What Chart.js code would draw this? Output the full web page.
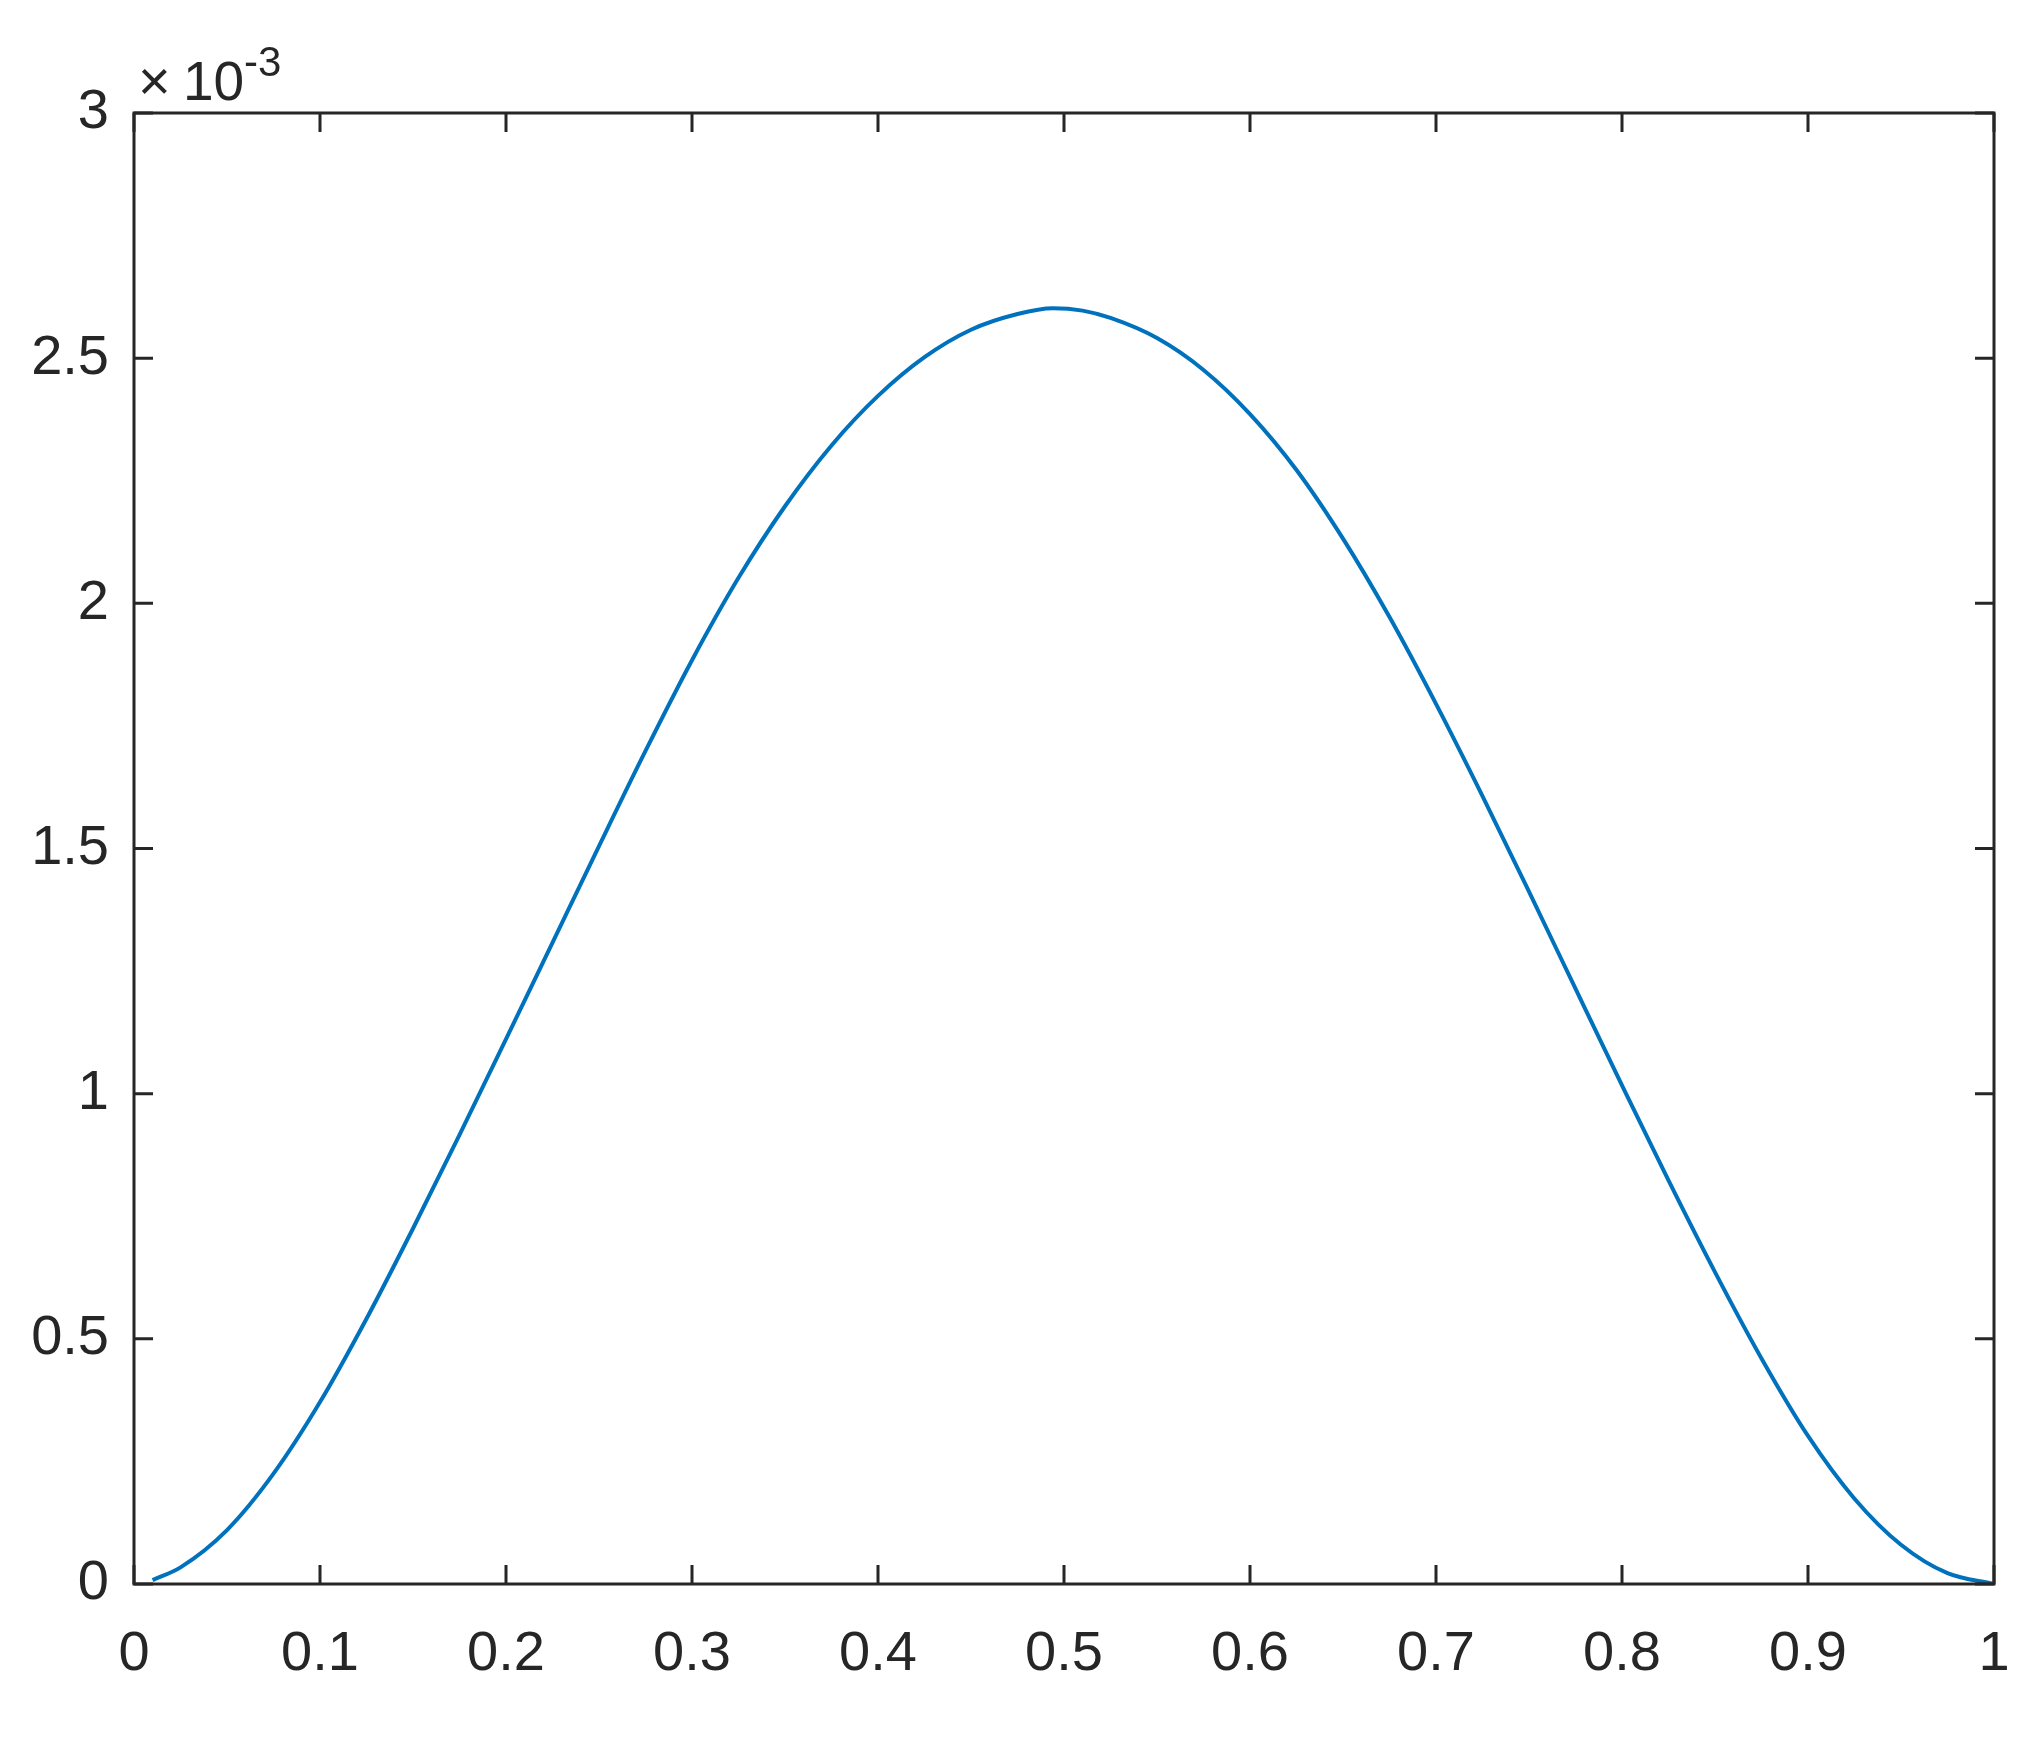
<!DOCTYPE html>
<html>
<head>
<meta charset="utf-8">
<style>
  html, body { margin: 0; padding: 0; background: #ffffff; }
  #wrap { width: 2029px; height: 1754px; position: relative; }
  canvas { display: block; }
</style>
<script src="https://cdn.jsdelivr.net/npm/chart.js@4.4.1/dist/chart.umd.min.js"></script>
</head>
<body>
<div id="wrap"><canvas id="c" width="2029" height="1754"></canvas></div>
<script>
// x positions of the sampled curve
const xValues = [0.010, 0.025, 0.050, 0.075, 0.100, 0.125, 0.150, 0.175, 0.200, 0.225,
  0.250, 0.275, 0.300, 0.325, 0.350, 0.375, 0.400, 0.425, 0.450, 0.475,
  0.494, 0.510, 0.525, 0.550, 0.575, 0.600, 0.625, 0.650, 0.675, 0.700,
  0.725, 0.750, 0.775, 0.800, 0.825, 0.850, 0.875, 0.900, 0.925, 0.950,
  0.975, 1.000];
// curve values, in units of 10^-3
const yValuesE3 = [0.008, 0.034, 0.110, 0.225, 0.371, 0.541, 0.725, 0.916, 1.111, 1.308,
  1.505, 1.699, 1.884, 2.052, 2.198, 2.322, 2.423, 2.502, 2.558, 2.590,
  2.602, 2.597, 2.582, 2.541, 2.476, 2.386, 2.272, 2.132, 1.972, 1.795,
  1.607, 1.412, 1.214, 1.017, 0.823, 0.636, 0.460, 0.302, 0.174, 0.080,
  0.022, 0.000];
// axis ticks
const xTicks = [0, 0.1, 0.2, 0.3, 0.4, 0.5, 0.6, 0.7, 0.8, 0.9, 1];
const yTicksE3 = [0, 0.5, 1, 1.5, 2, 2.5, 3];
const exponentBase = '\u00D7';
const exponentTen = '10';
const exponentPower = '-3';

const points = xValues.map((x, i) => ({ x: x, y: yValuesE3[i] }));
const axisColor = '#262626';
const fontFamily = '"Liberation Sans", Arial, Helvetica, sans-serif';
const fmt = v => String(Number(v.toFixed(2)));

const boxPlugin = {
  id: 'matlabBox',
  beforeDraw(chart) {
    const ctx = chart.ctx;
    ctx.save();
    ctx.fillStyle = '#ffffff';
    ctx.fillRect(0, 0, chart.width, chart.height);
    ctx.restore();
  },
  afterDraw(chart) {
    const ctx = chart.ctx;
    const a = chart.chartArea;
    const xs = chart.scales.x, ys = chart.scales.y;
    const tl = 19;
    ctx.save();
    ctx.strokeStyle = axisColor;
    ctx.lineWidth = 3;
    ctx.lineCap = 'butt';
    ctx.beginPath();
    xTicks.forEach(v => {
      const px = xs.getPixelForValue(v);
      ctx.moveTo(px, a.bottom); ctx.lineTo(px, a.bottom - tl);
      ctx.moveTo(px, a.top); ctx.lineTo(px, a.top + tl);
    });
    yTicksE3.forEach(v => {
      const py = ys.getPixelForValue(v);
      ctx.moveTo(a.left, py); ctx.lineTo(a.left + tl, py);
      ctx.moveTo(a.right, py); ctx.lineTo(a.right - tl, py);
    });
    ctx.stroke();
    ctx.lineJoin = 'miter';
    ctx.strokeRect(a.left, a.top, a.right - a.left, a.bottom - a.top);
    // exponent label
    ctx.fillStyle = axisColor;
    ctx.textBaseline = 'alphabetic';
    ctx.textAlign = 'left';
    ctx.font = '56px ' + fontFamily;
    ctx.fillText(exponentBase, a.left + 4, a.top - 13);
    ctx.font = '55px ' + fontFamily;
    ctx.fillText(exponentTen, a.left + 49, a.top - 13);
    ctx.font = '42px ' + fontFamily;
    ctx.fillText(exponentPower, a.left + 110, a.top - 37);
    ctx.restore();
  }
};

new Chart(document.getElementById('c'), {
  type: 'line',
  data: {
    datasets: [{
      data: points,
      borderColor: '#0072BD',
      borderWidth: 4,
      pointRadius: 0,
      fill: false,
      cubicInterpolationMode: 'monotone'
    }]
  },
  options: {
    responsive: false,
    animation: false,
    devicePixelRatio: 1,
    layout: { padding: { left: 0, top: 113, right: 35, bottom: 0 } },
    plugins: { legend: { display: false }, tooltip: { enabled: false } },
    scales: {
      x: {
        type: 'linear',
        min: 0, max: 1,
        afterBuildTicks: s => { s.ticks = xTicks.map(v => ({ value: v })); },
        afterFit: s => { s.height = 170; s.paddingLeft = 0; s.paddingRight = 0; },
        grid: { display: false, drawTicks: false },
        border: { display: false },
        ticks: {
          color: axisColor,
          padding: 37,
          maxRotation: 0,
          autoSkip: false,
          font: { family: fontFamily, size: 56 },
          callback: v => fmt(v)
        }
      },
      y: {
        type: 'linear',
        min: 0, max: 3,
        afterBuildTicks: s => { s.ticks = yTicksE3.map(v => ({ value: v })); },
        afterFit: s => { s.width = 134; s.paddingTop = 0; s.paddingBottom = 0; },
        grid: { display: false, drawTicks: false },
        border: { display: false },
        ticks: {
          color: axisColor,
          padding: 25,
          autoSkip: false,
          font: { family: fontFamily, size: 56 },
          callback: v => fmt(v)
        }
      }
    }
  },
  plugins: [boxPlugin]
});
</script>
</body>
</html>
